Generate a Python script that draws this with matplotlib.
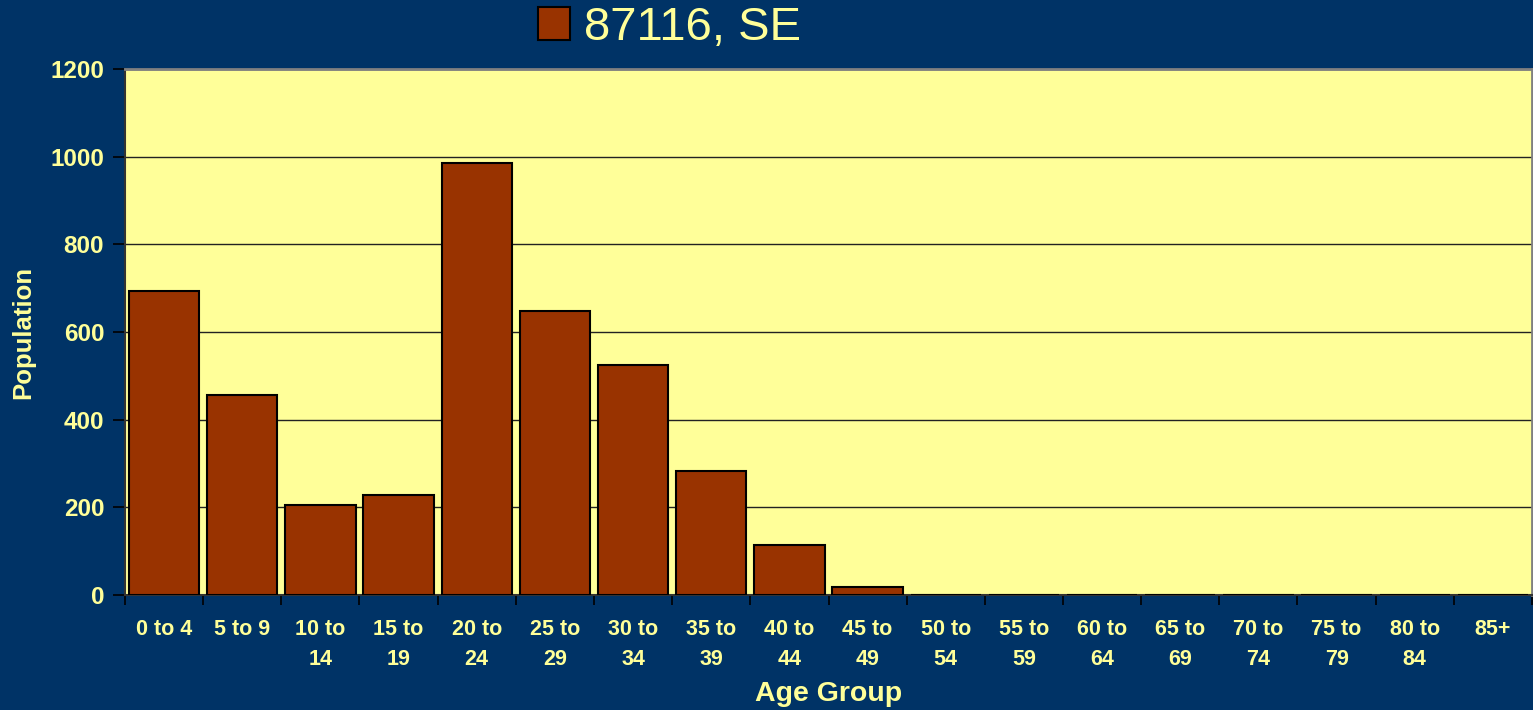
import numpy as np
import matplotlib.pyplot as plt

plt.rcParams['font.family'] = ['Liberation Sans', 'DejaVu Sans']

# age groups and population counts
age_groups = ['0 to 4', '5 to 9', '10 to\n14', '15 to\n19', '20 to\n24', '25 to\n29',
              '30 to\n34', '35 to\n39', '40 to\n44', '45 to\n49', '50 to\n54', '55 to\n59',
              '60 to\n64', '65 to\n69', '70 to\n74', '75 to\n79', '80 to\n84', '85+']
population = [694, 456, 205, 228, 986, 648, 525, 283, 114, 18,
              0, 0, 0, 0, 0, 0, 0, 0]
series_name = '87116, SE'
y_ticks = [0, 200, 400, 600, 800, 1000, 1200]

bg = '#003366'
plot_bg = '#FFFF99'
txt = '#FFFF99'
bar_col = '#993300'

fig = plt.figure(figsize=(15.33, 7.10), dpi=100, facecolor=bg)
ax = fig.add_axes([125/1533, 1 - 595/710, 1407/1533, 526/710])
ax.set_facecolor(plot_bg)

x = np.arange(len(age_groups))
ax.bar(x, population, width=0.9, color=bar_col, edgecolor='black', linewidth=1.5,
       label=series_name, zorder=3)

ax.set_xlim(-0.5, len(age_groups) - 0.5)
ax.set_ylim(0, 1200)
ax.set_yticks(y_ticks)
ax.yaxis.grid(True, color='#222222', linewidth=1, zorder=0)

# tick marks on category boundaries, labels at centres
ax.set_xticks(np.arange(-0.5, len(age_groups), 1.0))
ax.set_xticklabels([])
ax.set_xticks(x, minor=True)
ax.set_xticklabels(age_groups, minor=True, fontsize=15.5, fontweight='bold',
                   color=txt, linespacing=1.6)
ax.tick_params(axis='x', which='major', length=7, width=1.2, color='black', direction='out')
ax.tick_params(axis='x', which='minor', length=0, pad=17)
ax.tick_params(axis='y', length=9, width=1.2, color='black', direction='out', pad=6,
               labelsize=17.5, labelcolor=txt)
for lab in ax.get_yticklabels():
    lab.set_fontweight('bold')

for s in ['top', 'right']:
    ax.spines[s].set_color('#808080')
    ax.spines[s].set_linewidth(2)
for s in ['left', 'bottom']:
    ax.spines[s].set_color('#333333')
    ax.spines[s].set_linewidth(1.5)

ax.set_xlabel('Age Group', fontsize=20.5, fontweight='bold', color=txt, labelpad=8)
ax.set_ylabel('Population', fontsize=18.5, fontweight='bold', color=txt, labelpad=11)

fig.legend(loc='upper left', bbox_to_anchor=(538/1533, 1 - 6/710), frameon=False,
           fontsize=34, labelcolor=txt, handlelength=0.68, handleheight=0.68,
           handletextpad=0.3, borderpad=0, borderaxespad=0)

fig.savefig('out.png', dpi=100, facecolor=bg)
